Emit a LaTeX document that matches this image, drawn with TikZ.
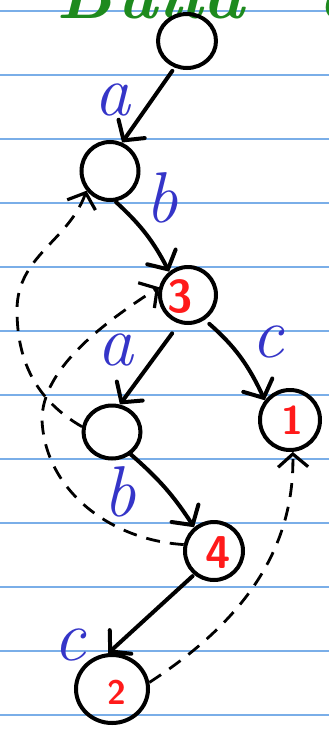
\documentclass[tikz,border=0pt]{standalone}
\usetikzlibrary{arrows.meta,shapes.geometric}
\definecolor{ruled}{HTML}{7AAEE8}
\definecolor{inkblue}{HTML}{3535C8}
\definecolor{inkred}{HTML}{FF1A1A}
\definecolor{inkgreen}{HTML}{1E8A1E}
\tikzset{
  nd/.style={draw, ellipse, line width=4pt, inner sep=0pt},
  edge/.style={line width=4pt, line cap=round, -{Straight Barb[length=14pt,width=32pt,line cap=round]}},
  dedge/.style={line width=2.8pt, dash pattern=on 14pt off 10pt, -{Straight Barb[length=13pt,width=30pt,line width=3.2pt]}},
  lbl/.style={text=inkblue, font=\fontsize{72}{72}\selectfont\itshape, inner sep=0pt},
  num/.style={text=inkred, inner sep=0pt},
  ttl/.style={text=inkgreen, font=\fontsize{70}{70}\selectfont\bfseries\itshape, inner sep=0pt, anchor=base}
}
\begin{document}
\begin{tikzpicture}[x=1pt,y=-1pt]
\useasboundingbox (0,0) rectangle (329,736);
\clip (0,0) rectangle (329,736);
\fill[white] (0,0) rectangle (329,736);
\foreach \k in {0,...,11} {
  \draw[ruled, line width=1.5pt] (0,11+64*\k) -- (329,11+64*\k);
}
% title
\node[ttl] (title) at (150,18) {Build};
\node[ttl] (title2) at (340,18) {a};
% nodes
\node[nd, minimum width=58pt, minimum height=54pt] (n0) at (187,41) {};
\node[nd, minimum width=57pt, minimum height=58pt] (nA) at (110,171) {};
\node[nd, minimum width=56pt, minimum height=56pt] (n3) at (188,295) {};
\node[nd, minimum width=57pt, minimum height=53pt] (nB) at (112,432) {};
\node[nd, minimum width=60pt, minimum height=60pt] (n1) at (290,420) {};
\node[nd, minimum width=58pt, minimum height=58pt] (n4) at (214,551) {};
\node[nd, minimum width=72pt, minimum height=68pt] (n2) at (112,689) {};
% numbers
\node[num, font=\sffamily\bfseries\fontsize{46}{46}\selectfont] (t3) at (180,297) {3};
\node[num, font=\sffamily\bfseries\fontsize{40}{40}\selectfont] (t1) at (292,420) {1};
\node[num, font=\sffamily\bfseries\fontsize{46}{46}\selectfont] (t4) at (218,553) {4};
\node[num, font=\sffamily\bfseries\fontsize{34}{34}\selectfont] (t2) at (117,692) {2};
% edge labels
\node[lbl] (la1) at (112,100) {a};
\node[lbl] (lb1) at (162,198) {b};
\node[lbl] (la2) at (115,350) {a};
\node[lbl] (lc1) at (268,342) {c};
\node[lbl] (lb2) at (120,492) {b};
\node[lbl] (lc2) at (70,645) {c};
% solid edges
\draw[edge, shorten <=4pt] (n0.245) -- (nA.67);
\draw[edge, shorten <=1pt] (nA.-80) to[bend left=10] (n3.129);
\draw[edge, shorten <=12pt] (n3.-107) -- (nB.74);
\draw[edge, shorten <=6pt] (n3.-56) to[bend left=12] (n1.142);
\draw[edge] (nB.-50) to[bend left=8] (n4.130);
\draw[edge, shorten <=2pt] (n4.-130) -- (n2.96);
% dashed edges
\draw[dedge] (nB.170) to[out=150,in=-90] (17,310) to[out=90,in=-110] (nA.220);
\draw[dedge] (n4.168) .. controls (110,540) and (45,490) .. (42,420)
  .. controls (42,370) and (100,325) .. (n3.165);
\draw[dedge] (n2.10) .. controls (230,630) and (295,560) .. (n1.-85);
\end{tikzpicture}
\end{document}
